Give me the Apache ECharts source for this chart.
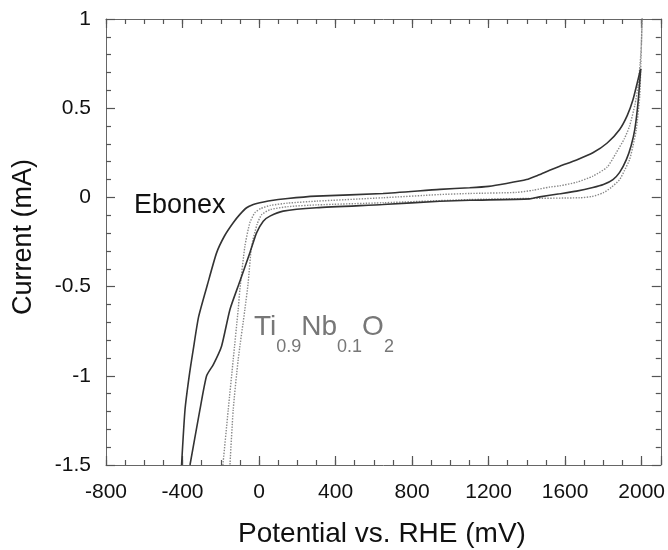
<!DOCTYPE html>
<html>
<head>
<meta charset="utf-8">
<script src="https://cdn.jsdelivr.net/npm/echarts@6/dist/echarts.min.js"></script>
<style>html,body{margin:0;padding:0;background:#fff}#c{width:668px;height:550px}</style>
</head>
<body>
<div id="c"></div>
<script>
// Potential (mV) vs current (mA) pairs
const ebonexAnodic = [[-405,-1.5],[-387,-1.19],[-365,-1.0],[-344,-0.853],[-316,-0.67],[-270,-0.49],[-222,-0.311],[-180,-0.215],[-135,-0.142],[-100,-0.095],[-65,-0.058],[-30,-0.04],[4,-0.03],[48,-0.02],[150,-0.006],[300,0.007],[648,0.022],[945,0.045],[1101,0.054],[1200,0.062],[1293,0.078],[1398,0.10],[1460,0.125],[1519,0.152],[1572,0.175],[1660,0.21],[1745,0.25],[1820,0.305],[1885,0.381],[1925,0.46],[1955,0.549],[1981,0.66],[1995,0.72]];
const ebonexCathodic = [[1995,0.72],[1981,0.53],[1964,0.38],[1945,0.29],[1920,0.212],[1885,0.14],[1850,0.10],[1800,0.072],[1745,0.055],[1660,0.035],[1572,0.02],[1467,0.003],[1415,-0.008],[1101,-0.016],[945,-0.022],[648,-0.04],[300,-0.058],[126,-0.077],[57,-0.105],[22,-0.133],[-13,-0.199],[-48,-0.311],[-100,-0.47],[-152,-0.628],[-196,-0.834],[-239,-0.937],[-274,-1.0],[-309,-1.19],[-361,-1.5]];
const tinbAnodic = [[-189,-1.5],[-161,-1.19],[-135,-0.909],[-109,-0.628],[-100,-0.516],[-74,-0.274],[-48,-0.142],[-22,-0.086],[10,-0.062],[60,-0.045],[150,-0.032],[300,-0.021],[648,-0.002],[945,0.016],[1101,0.022],[1345,0.028],[1432,0.04],[1519,0.058],[1572,0.065],[1660,0.085],[1745,0.119],[1820,0.17],[1867,0.25],[1910,0.33],[1937,0.40],[1965,0.52],[1981,0.623],[1992,0.75],[1998,0.848],[2003,1.02]];
const tinbCathodic = [[2003,1.02],[1996,0.75],[1990,0.567],[1972,0.38],[1955,0.29],[1937,0.212],[1910,0.15],[1885,0.10],[1840,0.055],[1798,0.025],[1740,0.005],[1676,-0.002],[1400,-0.006],[1101,-0.012],[648,-0.03],[300,-0.042],[150,-0.052],[60,-0.068],[15,-0.095],[-10,-0.15],[-39,-0.274],[-57,-0.48],[-74,-0.628],[-109,-0.909],[-135,-1.19],[-152,-1.5]];

const xMin = -800, xMax = 2100, xMajor = 400, xMinor = 100;
const yMin = -1.5, yMax = 1, yMajor = 0.5;
const xTitle = 'Potential vs. RHE (mV)';
const yTitle = 'Current (mA)';

const frame = '#666';
const tickCol = '#555';
const font = 'Liberation Sans, Arial, sans-serif';

function xAx(pos, interval, tickLen, labels, line) {
  return {
    type: 'value', position: pos, min: xMin, max: xMax, interval: interval,
    splitLine: {show: false},
    axisLine: {show: line, onZero: false, lineStyle: {color: frame}},
    axisTick: {show: true, inside: true, length: tickLen, lineStyle: {color: tickCol, width: 1.2}},
    axisLabel: {show: labels, margin: 17, color: '#111', fontSize: 21, fontFamily: font,
      formatter: function (v) { return v === xMax ? '' : String(v); }}
  };
}
function yAx(pos, labels) {
  return {
    type: 'value', position: pos, min: yMin, max: yMax, interval: yMajor,
    splitLine: {show: false},
    axisLine: {show: true, onZero: false, lineStyle: {color: frame}},
    axisTick: {show: true, inside: true, length: 9, lineStyle: {color: tickCol, width: 1.2}},
    minorTick: {show: true, splitNumber: 5, length: 5, lineStyle: {color: tickCol, width: 1.2}},
    axisLabel: {show: labels, margin: 15, color: '#111', fontSize: 21, fontFamily: font}
  };
}

const dark = {color: '#333', width: 1.6};
const grey = {color: '#888', width: 1.4, type: 'dotted'};
function ser(data, style) {
  return {type: 'line', data: data, showSymbol: false, symbol: 'none', smooth: 0.2,
    lineStyle: style, xAxisIndex: 0, yAxisIndex: 0};
}

const chart = echarts.init(document.getElementById('c'));
chart.setOption({
  animation: false,
  grid: {left: 106, top: 19, right: 7, bottom: 85},
  xAxis: [
    xAx('bottom', xMinor, 5, false, true),
    xAx('bottom', xMajor, 9, true, false),
    xAx('top', xMinor, 5, false, true),
    xAx('top', xMajor, 9, false, false)
  ],
  yAxis: [yAx('left', true), yAx('right', false)],
  series: [
    ser(tinbAnodic, grey), ser(tinbCathodic, grey),
    ser(ebonexAnodic, dark), ser(ebonexCathodic, dark)
  ],
  graphic: [
    {type: 'text', x: 382, y: 534, style: {text: xTitle, font: '28px ' + font, fill: '#111', align: 'center', verticalAlign: 'middle'}},
    {type: 'text', x: 24, y: 237, rotation: Math.PI / 2, style: {text: yTitle, font: '27px ' + font, fill: '#111', align: 'center', verticalAlign: 'middle'}},
    {type: 'text', x: 134, y: 206, style: {text: 'Ebonex', font: '27px ' + font, fill: '#111', align: 'left', verticalAlign: 'middle'}},
    {type: 'text', x: 254, y: 313, style: {
      text: '{a|Ti}{s|0.9}{a|Nb}{s|0.1}{a|O}{s|2}', align: 'left', verticalAlign: 'top',
      rich: {
        a: {fontSize: 28, fontFamily: font, fill: '#777', lineHeight: 32, verticalAlign: 'top'},
        s: {fontSize: 18, fontFamily: font, fill: '#777', lineHeight: 18, padding: [25, 0, 0, 0], verticalAlign: 'top'}
      }}}
  ]
});
</script>
</body>
</html>
